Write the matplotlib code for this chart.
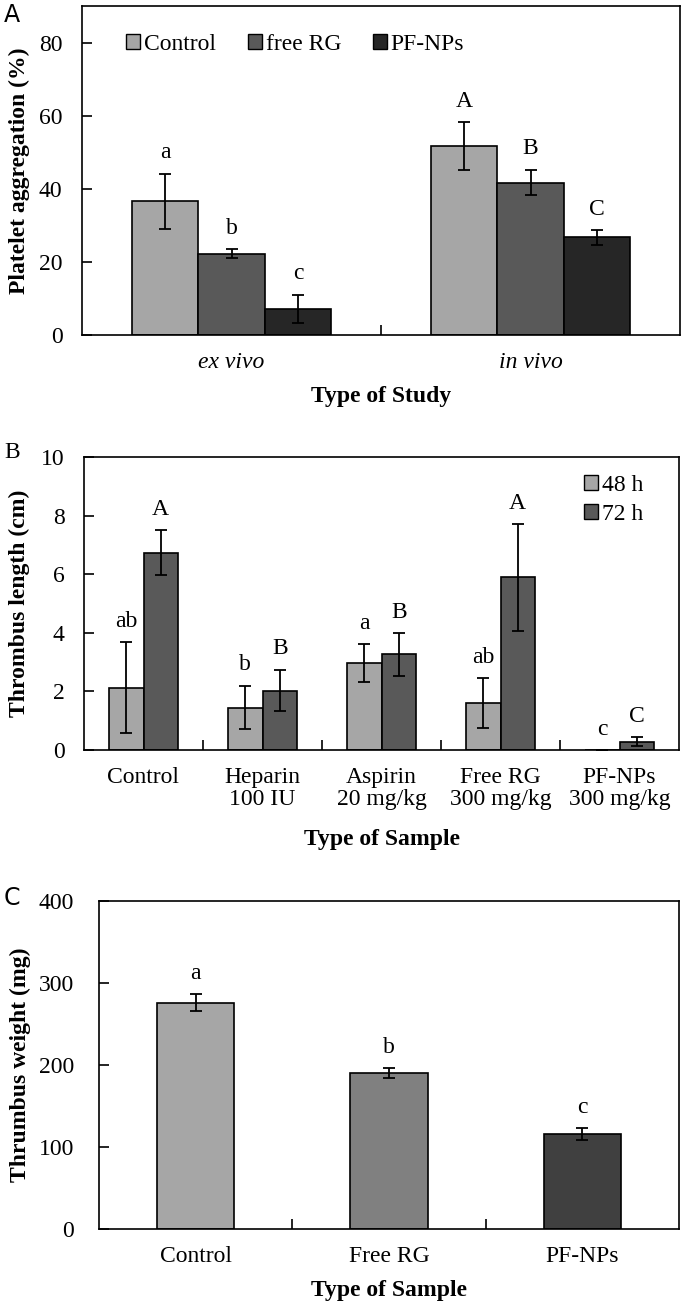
import numpy as np
import matplotlib
matplotlib.use("Agg")
import matplotlib.pyplot as plt
from matplotlib.patches import Patch

# ---------------------------------------------------------------
# Data
# ---------------------------------------------------------------

# Panel A - platelet aggregation (%)
study_types = ["ex vivo", "in vivo"]
agg_series = ["Control", "free RG", "PF-NPs"]
agg_values = [[36.6, 51.7], [22.2, 41.7], [7.2, 26.7]]
agg_errors = [[7.5, 6.5], [1.2, 3.5], [3.8, 2.0]]
agg_letters = [["a", "A"], ["b", "B"], ["c", "C"]]

# Panel B - thrombus length (cm)
sample_types_b = ["Control", "Heparin\n100 IU", "Aspirin\n20 mg/kg",
                  "Free RG\n300 mg/kg", "PF-NPs\n300 mg/kg"]
time_series = ["48 h", "72 h"]
length_values = [[2.13, 1.45, 2.97, 1.61, 0.0], [6.73, 2.03, 3.26, 5.89, 0.28]]
length_errors = [[1.56, 0.74, 0.65, 0.85, 0.0], [0.77, 0.71, 0.72, 1.82, 0.16]]
length_letters = [["ab", "b", "a", "ab", "c"], ["A", "B", "B", "A", "C"]]

# Panel C - thrombus weight (mg)
sample_types_c = ["Control", "Free RG", "PF-NPs"]
weight_values = [276, 190.5, 115.7]
weight_errors = [10.5, 6.0, 7.0]
weight_letters = ["a", "b", "c"]

# ---------------------------------------------------------------
# Style
# ---------------------------------------------------------------
plt.rcParams["font.family"] = ["Liberation Serif", "DejaVu Serif"]
plt.rcParams["axes.linewidth"] = 1.2

W, H = 682, 1305
fig = plt.figure(figsize=(W / 100, H / 100), dpi=100)

tick_fs = 17
lab_fs = 17
err_kw = dict(ecolor="black", elinewidth=1.3, capsize=4, capthick=1.3)


def make_axes(left, right, top, bottom):
    return fig.add_axes([left / W, (H - bottom) / H, (right - left) / W, (bottom - top) / H])


def style_axes(ax, ncat, ypad):
    ax.set_xlim(-0.5, ncat - 0.5)
    ax.set_xticks(np.arange(ncat))
    ax.set_xticks(np.arange(ncat - 1) + 0.5, minor=True)
    ax.tick_params(axis="x", which="major", length=0, pad=12, labelsize=tick_fs)
    ax.tick_params(axis="x", which="minor", direction="in", length=7, width=1.2)
    ax.tick_params(axis="y", direction="in", length=7, width=1.2, pad=ypad, labelsize=tick_fs)


def letter(ax, x, y, s):
    ax.annotate(s, (x, y), xytext=(0, 15), textcoords="offset points",
                ha="center", va="center", fontsize=tick_fs)


# ---------------------------------------------------------------
# Panel A
# ---------------------------------------------------------------
axA = make_axes(82, 680, 6, 335)
colors_a = ["#a6a6a6", "#595959", "#262626"]
wA = 0.222
xA = np.arange(len(study_types))
for i in range(len(agg_series)):
    xs = xA + (i - 1) * wA
    axA.bar(xs, agg_values[i], wA, color=colors_a[i], edgecolor="black", linewidth=1.2,
            yerr=agg_errors[i], error_kw=err_kw, label=agg_series[i], zorder=2)
    for j in range(len(xs)):
        letter(axA, xs[j], agg_values[i][j] + agg_errors[i][j], agg_letters[i][j])
axA.set_ylim(0, 90)
axA.set_yticks([0, 20, 40, 60, 80])
style_axes(axA, len(study_types), 14)
axA.set_xticklabels(study_types, style="italic")
axA.text(0.5, -0.188, "Type of Study", transform=axA.transAxes, ha="center", va="center",
         fontsize=lab_fs, fontweight="bold")
axA.text(-0.104, 0.5, "Platelet aggregation (%)", transform=axA.transAxes, ha="center",
         va="center", rotation=90, fontsize=lab_fs, fontweight="bold")
handles_a = [Patch(facecolor=colors_a[i], edgecolor="black", label=agg_series[i]) for i in range(3)]
axA.legend(handles=handles_a, loc="center left", bbox_to_anchor=(0.074, 0.884), ncol=3,
           frameon=False, fontsize=tick_fs, handlelength=0.6, handleheight=0.6,
           handletextpad=0.15, columnspacing=1.35, borderaxespad=0, borderpad=0)
fig.text(4 / W, 1 - 15 / H, "A", fontsize=17, family="DejaVu Sans", va="center")

# ---------------------------------------------------------------
# Panel B
# ---------------------------------------------------------------
axB = make_axes(84, 679, 457, 750)
colors_b = ["#a6a6a6", "#595959"]
wB = 0.289
xB = np.arange(len(sample_types_b))
for i in range(len(time_series)):
    xs = xB + (i - 0.5) * wB
    axB.bar(xs, length_values[i], wB, color=colors_b[i], edgecolor="black", linewidth=1.2,
            yerr=length_errors[i], error_kw=err_kw, label=time_series[i], zorder=2)
    for j in range(len(xs)):
        letter(axB, xs[j], length_values[i][j] + length_errors[i][j], length_letters[i][j])
axB.set_ylim(0, 10)
axB.set_yticks([0, 2, 4, 6, 8, 10])
style_axes(axB, len(sample_types_b), 14)
axB.set_xticklabels(sample_types_b, linespacing=1.1)
axB.text(0.5, -0.307, "Type of Sample", transform=axB.transAxes, ha="center", va="center",
         fontsize=lab_fs, fontweight="bold")
axB.text(-0.108, 0.5, "Thrombus length (cm)", transform=axB.transAxes, ha="center",
         va="center", rotation=90, fontsize=lab_fs, fontweight="bold")
handles_b = [Patch(facecolor=colors_b[i], edgecolor="black", label=time_series[i]) for i in range(2)]
axB.legend(handles=handles_b, loc="center left", bbox_to_anchor=(0.84, 0.853),
           frameon=False, fontsize=tick_fs, handlelength=0.6, handleheight=0.6,
           handletextpad=0.15, labelspacing=0.35, borderaxespad=0, borderpad=0)
fig.text(4 / W, 1 - 452 / H, "B", fontsize=17, va="center")

# ---------------------------------------------------------------
# Panel C
# ---------------------------------------------------------------
axC = make_axes(99, 679, 901, 1229)
colors_c = ["#a6a6a6", "#808080", "#404040"]
xC = np.arange(len(sample_types_c))
axC.bar(xC, weight_values, 0.40, color=colors_c, edgecolor="black", linewidth=1.2,
        yerr=weight_errors, error_kw=err_kw, zorder=2)
for j in range(len(xC)):
    letter(axC, xC[j], weight_values[j] + weight_errors[j], weight_letters[j])
axC.set_ylim(0, 400)
axC.set_yticks([0, 100, 200, 300, 400])
style_axes(axC, len(sample_types_c), 18)
axC.set_xticklabels(sample_types_c)
axC.text(0.5, -0.186, "Type of Sample", transform=axC.transAxes, ha="center", va="center",
         fontsize=lab_fs, fontweight="bold")
axC.text(-0.136, 0.5, "Thrumbus weight (mg)", transform=axC.transAxes, ha="center",
         va="center", rotation=90, fontsize=lab_fs, fontweight="bold")
fig.text(4 / W, 1 - 898 / H, "C", fontsize=17, family="DejaVu Sans", va="center")

fig.savefig("out.png", dpi=100)
